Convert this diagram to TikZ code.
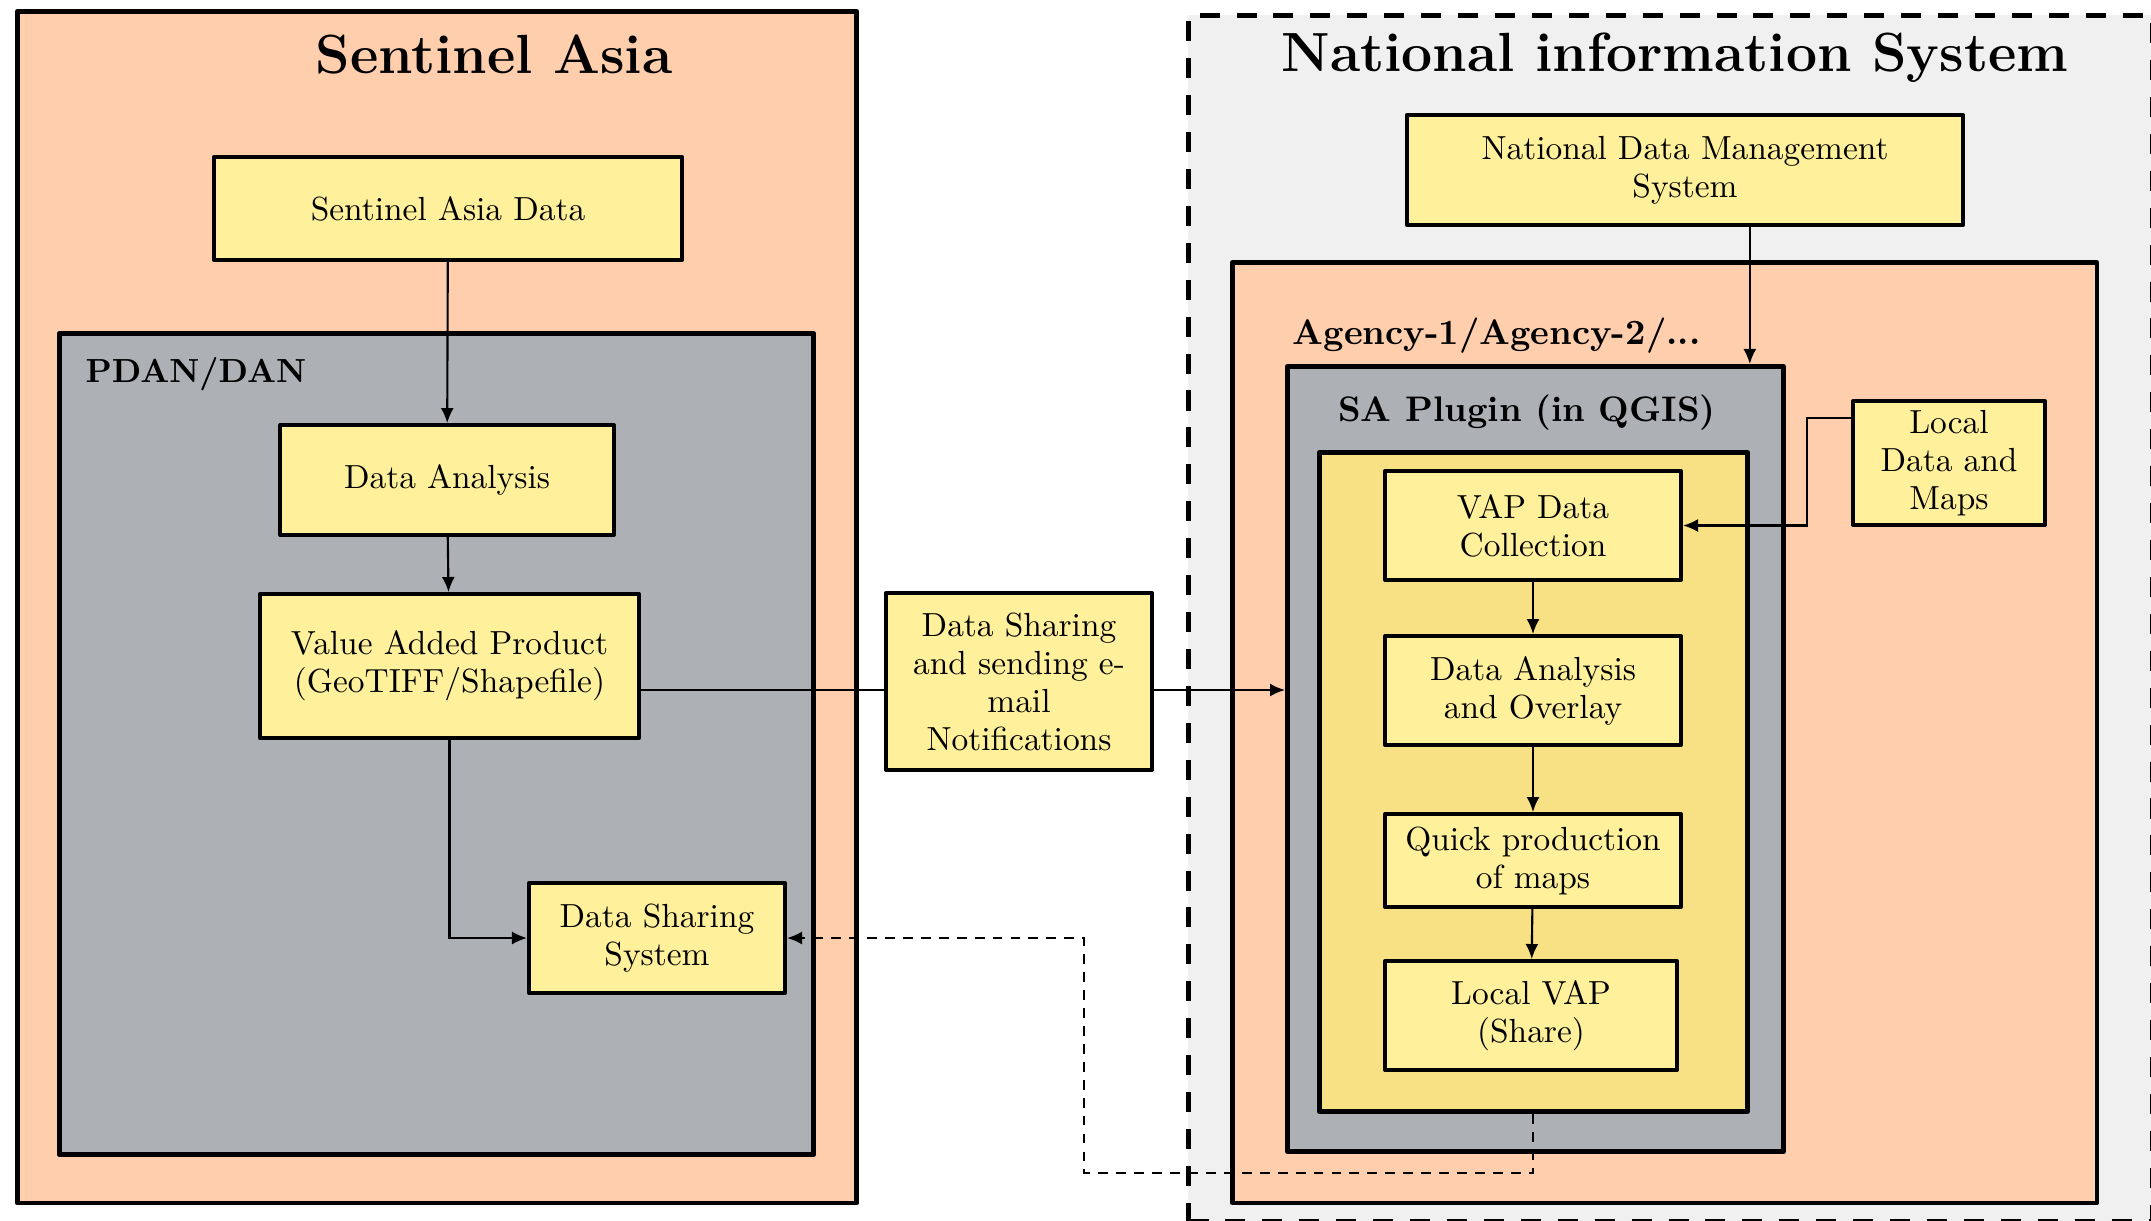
\documentclass[tikz,border=0pt]{standalone}
\usepackage{tikz}
\usepackage[rgb]{xcolor}
\usetikzlibrary{arrows.meta}

\definecolor{peach}{HTML}{FFCEAD}
\definecolor{panelgray}{HTML}{ADB0B5}
\definecolor{boxyellow}{HTML}{FFF09B}
\definecolor{toolyellow}{HTML}{F8E084}
\definecolor{nisgray}{HTML}{F0F0F0}

\tikzset{
	frame/.style={draw=black, line width=1.3pt, line join=round, inner sep=0pt, anchor=north west},
	item/.style={draw=black, fill=boxyellow, line width=1.1pt, line join=round, align=center, inner sep=0pt, font=\fontsize{9.5}{10.8}\selectfont},
	heading/.style={inner sep=0pt, anchor=base, font=\bfseries\fontsize{15.7}{18}\selectfont},
	tag/.style={inner sep=0pt, anchor=base west, font=\bfseries\fontsize{10.1}{12}\selectfont},
	link/.style={line width=0.6pt, -{Latex[length=1.5mm,width=1.3mm]}},
	backlink/.style={link, dash pattern=on 2.8pt off 2.3pt},
}

\begin{document}
\begin{tikzpicture}[x=0.01cm, y=-0.01cm]
	\useasboundingbox (0,0) rectangle (2151,1221);
	% containers
	\node[frame, fill=peach, minimum width=8.39cm, minimum height=11.91cm] (saframe) at (15,9) {};
	\node[frame, fill=panelgray, minimum width=7.54cm, minimum height=8.21cm] (pdan) at (57,331) {};
	\node[frame, fill=nisgray, line width=1.4pt, dash pattern=on 5.7pt off 4.8pt, minimum width=9.63cm, minimum height=12.05cm] (nis) at (1186,13) {};
	\node[frame, fill=peach, minimum width=8.64cm, minimum height=9.4cm] (agency) at (1230,260) {};
	\node[frame, fill=panelgray, minimum width=4.96cm, minimum height=7.85cm] (plugin) at (1285,364) {};
	\node[frame, fill=toolyellow, minimum width=4.28cm, minimum height=6.59cm] (tools) at (1317,450) {};

	\node[heading] (satitle) at (494,73) {Sentinel Asia};
	\node[heading] (nistitle) at (1675,71) {National information System};
	\node[tag, font=\bfseries\fontsize{9.5}{12}\selectfont] (pdantag) at (85,382) {PDAN/DAN};
	\node[tag] (agencytag) at (1292,344) {Agency-1/Agency-2/...};
	\node[tag, anchor=base] (plugintag) at (1527,421) {SA Plugin (in QGIS)};

	% boxes
	\node[item, minimum width=4.68cm, minimum height=1.03cm] (sadata) at (448,208.5) {Sentinel Asia Data};
	\node[item, minimum width=3.33cm, minimum height=1.1cm] (analysis) at (447,480) {Data Analysis};
	\node[item, minimum width=3.79cm, minimum height=1.44cm] (vap) at (449.5,666) {Value Added Product\\(GeoTIFF/Shapefile)};
	\node[item, minimum width=2.56cm, minimum height=1.1cm] (dss) at (657,938) {Data Sharing\\System};
	\node[item, minimum width=2.66cm, minimum height=1.77cm] (notif) at (1019,681.5) {Data Sharing\\and sending e-\\mail\\Notifications};
	\node[item, minimum width=5.56cm, minimum height=1.1cm] (ndms) at (1685,170) {National Data Management\\System};
	\node[item, minimum width=1.92cm, minimum height=1.24cm] (local) at (1949,463) {Local\\Data and\\Maps};
	\node[item, minimum width=2.96cm, minimum height=1.09cm] (vapdc) at (1533,525.5) {VAP Data\\Collection};
	\node[item, minimum width=2.96cm, minimum height=1.09cm] (overlay) at (1533,690.5) {Data Analysis\\and Overlay};
	\node[item, minimum width=2.96cm, minimum height=0.93cm] (quick) at (1533,860.5) {Quick production\\of maps};
	\node[item, minimum width=2.92cm, minimum height=1.09cm] (localvap) at (1531,1015.5) {Local VAP\\(Share)};

	% connectors
	\draw[link] (sadata) -- (analysis);
	\draw[link] (analysis) -- (vap);
	\draw[link] (vap.south) |- (dss.west);
	\coordinate (share) at (639,690);
	\draw[line width=0.6pt] (vap.east |- share) -- (notif.west |- share);
	\draw[link] (notif.east |- share) -- (plugin.west |- share);
	\draw[link] (ndms.south -| tools.east) -- (plugin.north -| tools.east);
	\draw[link] ([yshift=4.5mm]local.west) -- ++(-44,0) |- (vapdc.east);
	\draw[link] (vapdc) -- (overlay);
	\draw[link] (overlay) -- (quick);
	\draw[link] (quick) -- (localvap);
	\draw[backlink] (tools.south) |- (1084,1173) |- (dss.east);
\end{tikzpicture}
\end{document}
